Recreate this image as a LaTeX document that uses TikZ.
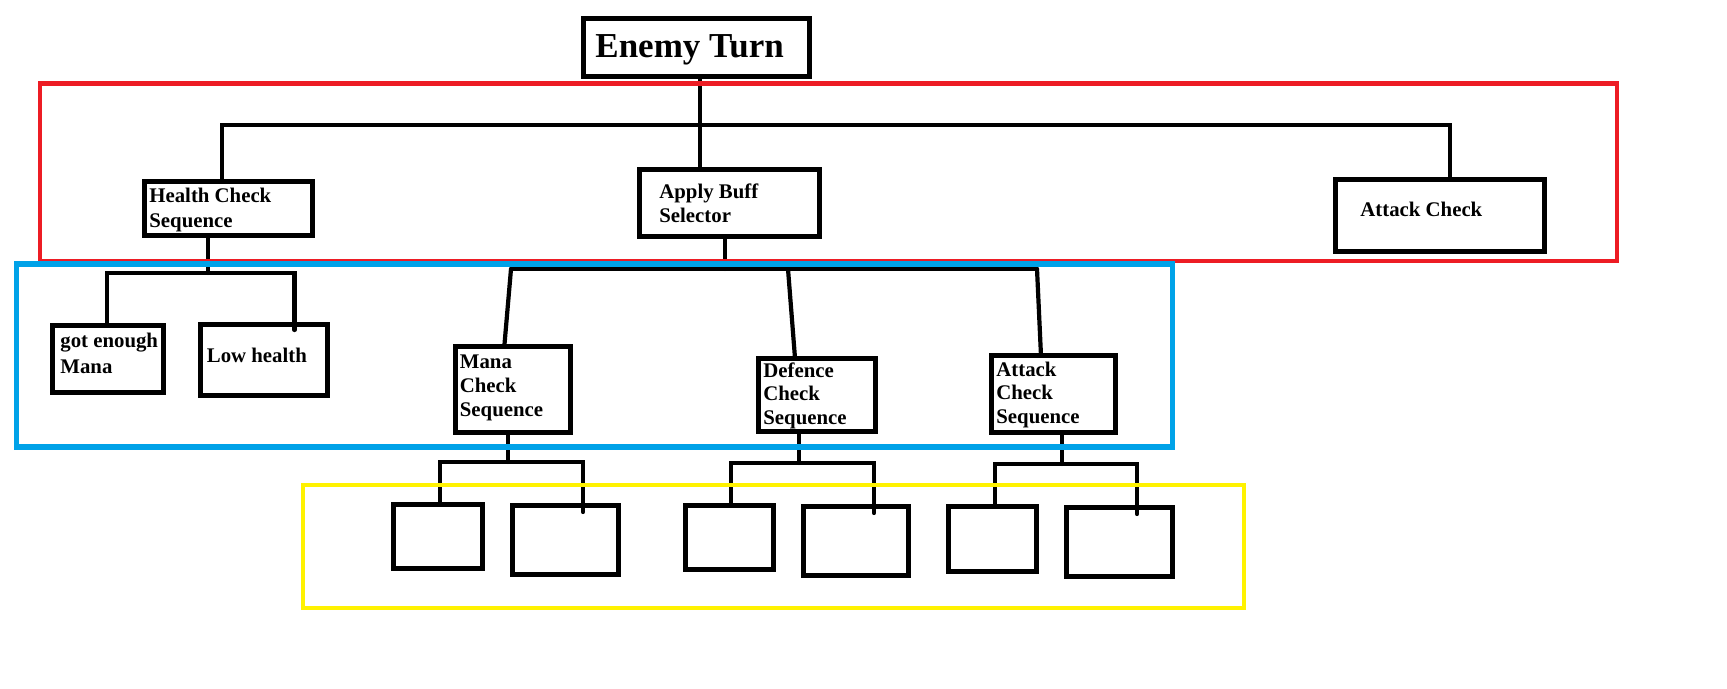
\documentclass[tikz,border=0pt]{standalone}
\usepackage{fontspec}
\setmainfont{Liberation Serif}
\usetikzlibrary{fit}
\definecolor{pred}{HTML}{ED1C24}
\definecolor{pblue}{HTML}{00A2E8}
\definecolor{pyellow}{HTML}{FFF200}
\tikzset{
  box/.style={draw=black, line width=2.5pt, inner sep=0pt, fill=white},
  conn/.style={draw=black, line width=2.1pt, line cap=round},
  frame/.style={line width=2.3pt, inner sep=0pt},
  lbl/.style={anchor=base west, inner sep=0pt, font=\bfseries\fontsize{10.4}{12}\selectfont},
  biglbl/.style={anchor=base west, inner sep=0pt, font=\bfseries\fontsize{17.5}{20}\selectfont}
}
\begin{document}
\begin{tikzpicture}[x=0.5pt,y=-0.5pt]
\useasboundingbox[fill=white] (0,0) rectangle (1727,689);

% junction coordinates
\coordinate (jT) at (700,125);
\coordinate (jL) at (222,125);
\coordinate (jR) at (1450,125);
\coordinate (hA) at (208,273);
\coordinate (hL) at (107,273);
\coordinate (hR) at (294.5,273);
\coordinate (aA) at (725,269);
\coordinate (aL) at (511,269);
\coordinate (aM) at (788,269);
\coordinate (aR) at (1037,269);
\coordinate (mA) at (508,462);
\coordinate (mL) at (440,462);
\coordinate (mR) at (583,462);
\coordinate (dA) at (799,463);
\coordinate (dL) at (731,463);
\coordinate (dR) at (874,463);
\coordinate (tA) at (1062,464);
\coordinate (tL) at (995,464);
\coordinate (tR) at (1137,464);

% connectors (under boxes)
\draw[conn] (jT|-0,76) -- (jT|-0,170);
\draw[conn] (jL|-0,182) -- (jL) -- (jR) -- (jR|-0,180);
\draw[conn] (hA|-0,235) -- (hA);
\draw[conn] (hL|-0,326) -- (hL) -- (hR) -- (hR|-0,328);
\draw[conn] (aA|-0,235) -- (aA);
\draw[conn] (aL) -- (aR);
\draw[conn] (aL) -- (504,350);
\draw[conn] (aM) -- (795,358);
\draw[conn] (aR) -- (1041,356);
\draw[conn] (mA|-0,432) -- (mA);
\draw[conn] (mL|-0,506) -- (mL) -- (mR) -- (mR|-0,509);
\draw[conn] (dA|-0,431) -- (dA);
\draw[conn] (dL|-0,507) -- (dL) -- (dR) -- (dR|-0,510);
\draw[conn] (tA|-0,432) -- (tA);
\draw[conn] (tL|-0,508) -- (tL) -- (tR) -- (tR|-0,511);

% boxes
\node[box, fit={(583,18.5) (809.7,77)}] (et) {};
\node[box, fit={(144,181.2) (312.7,235.7)}] (hc) {};
\node[box, fit={(639.2,169.2) (819.7,236.7)}] (ab) {};
\node[box, fit={(1335.5,179.5) (1544.3,252)}] (ac) {};
\node[box, fit={(52.3,325.3) (163.7,392.7)}] (ge) {};
\node[box, fit={(200.3,324.3) (327.7,395.7)}] (lh) {};
\node[box, fit={(455.7,346.3) (570.7,432.7)}] (mc) {};
\node[box, fit={(758.3,358.3) (875.7,431.7)}] (dc) {};
\node[box, fit={(991.3,355.3) (1115.7,432.7)}] (acs) {};
\node[box, fit={(393.3,504.3) (482.7,568.7)}] (b1) {};
\node[box, fit={(512.3,505.3) (618.7,574.7)}] (b2) {};
\node[box, fit={(685.3,505.3) (773.7,569.7)}] (b3) {};
\node[box, fit={(803.3,506.3) (908.7,575.7)}] (b4) {};
\node[box, fit={(948.3,506.3) (1036.7,571.7)}] (b5) {};
\node[box, fit={(1066.3,507.3) (1172.7,576.7)}] (b6) {};

% re-draw tips that enter boxes
\draw[conn] (hR|-0,318) -- (hR|-0,330);
\draw[conn] (mR|-0,500) -- (mR|-0,512);
\draw[conn] (dR|-0,500) -- (dR|-0,513);
\draw[conn] (tR|-0,500) -- (tR|-0,514);

% labels
\node[biglbl] (tEt) at (595,58) {Enemy Turn};
\node[lbl] (tHc1) at (149,203) {Health Check};
\node[lbl] (tHc2) at (149,228) {Sequence};
\node[lbl] (tAb1) at (659,199) {Apply Buff};
\node[lbl] (tAb2) at (659,223) {Selector};
\node[lbl] (tAc) at (1360,217) {Attack Check};
\node[lbl] (tGe1) at (60,348) {got enough};
\node[lbl] (tGe2) at (60,373) {Mana};
\node[lbl] (tLh) at (206.5,363) {Low health};
\node[lbl] (tMc1) at (459.5,368) {Mana};
\node[lbl] (tMc2) at (459.5,392) {Check};
\node[lbl] (tMc3) at (459.5,416.5) {Sequence};
\node[lbl] (tDc1) at (763,377) {Defence};
\node[lbl] (tDc2) at (763,400) {Check};
\node[lbl] (tDc3) at (763,424) {Sequence};
\node[lbl] (tAs1) at (996,376) {Attack};
\node[lbl] (tAs2) at (996,399) {Check};
\node[lbl] (tAs3) at (996,423) {Sequence};

% coloured frames (on top)
\node[frame, draw=pred, fit={(40,83.5) (1617,261)}] (fred) {};
\node[frame, draw=pblue, line width=2.6pt, fit={(16.5,264) (1172.5,447)}] (fblue) {};
\node[frame, draw=pyellow, fit={(303,485) (1244,608)}] (fyellow) {};
\end{tikzpicture}
\end{document}
